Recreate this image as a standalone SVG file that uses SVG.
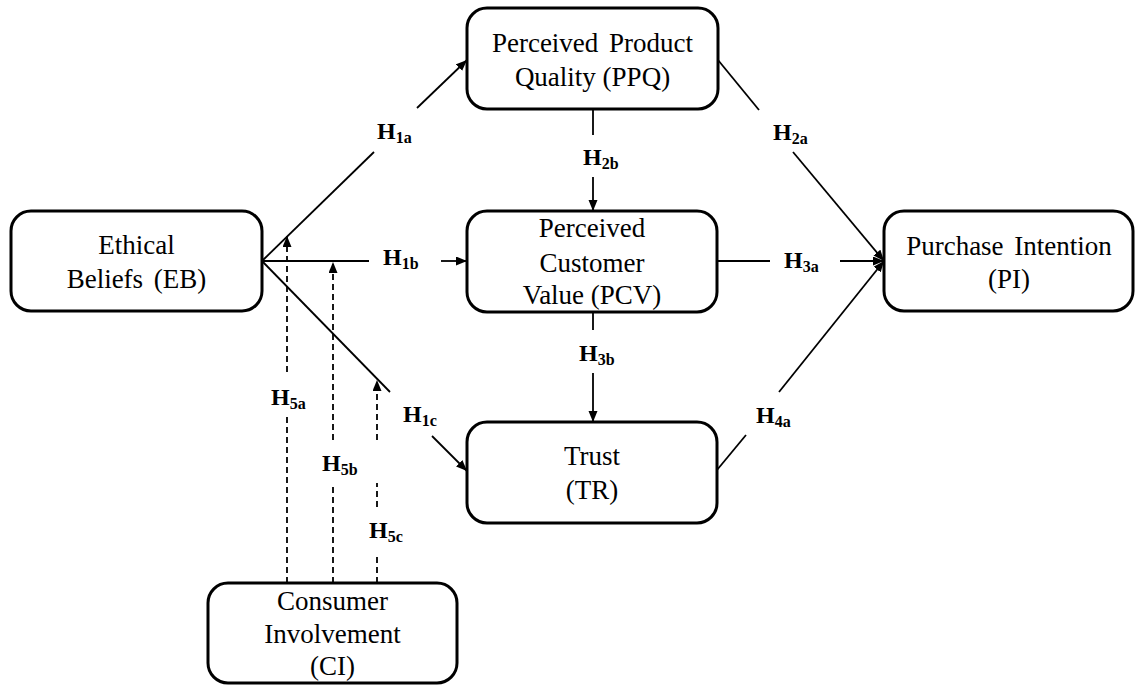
<svg xmlns="http://www.w3.org/2000/svg" width="1135" height="686" viewBox="0 0 1135 686">
<style>
.box{fill:#fff;stroke:#000;stroke-width:3}
.t{font-family:"Liberation Serif","Times New Roman",serif;font-size:27px;fill:#000;text-anchor:middle}
.lbl{font-family:"Liberation Serif","Times New Roman",serif;font-size:24px;font-weight:bold;fill:#000}
.sub{font-size:16px}
.ln{stroke:#000;stroke-width:1.8;fill:none}
.dl{stroke:#000;stroke-width:1.8;fill:none;stroke-dasharray:6,4}
</style>
<defs>
<marker id="ah" markerUnits="userSpaceOnUse" markerWidth="12" markerHeight="10" refX="11" refY="4.5" orient="auto">
<path d="M0,0 L11,4.5 L0,9 z" fill="#000"/>
</marker>
</defs>
<rect width="1135" height="686" fill="#fff"/>
<g id="connectors">
<line class="ln" x1="262" y1="261" x2="374" y2="152"/>
<line class="ln" x1="417" y1="108" x2="467" y2="60" marker-end="url(#ah)"/>
<line class="ln" x1="262" y1="261" x2="369" y2="261"/>
<line class="ln" x1="441" y1="261" x2="467" y2="261" marker-end="url(#ah)"/>
<line class="ln" x1="262" y1="261" x2="390" y2="392"/>
<line class="ln" x1="432" y1="436" x2="467" y2="471" marker-end="url(#ah)"/>
<line class="ln" x1="593" y1="109" x2="593" y2="135"/>
<line class="ln" x1="593" y1="177" x2="593" y2="211" marker-end="url(#ah)"/>
<line class="ln" x1="718" y1="60" x2="759" y2="110"/>
<line class="ln" x1="793" y1="152" x2="884" y2="261" marker-end="url(#ah)"/>
<line class="ln" x1="718" y1="261" x2="770" y2="261"/>
<line class="ln" x1="840" y1="261" x2="884" y2="261" marker-end="url(#ah)"/>
<line class="ln" x1="593" y1="312" x2="593" y2="330"/>
<line class="ln" x1="593" y1="373" x2="593" y2="422" marker-end="url(#ah)"/>
<line class="ln" x1="717" y1="470" x2="746" y2="435"/>
<line class="ln" x1="779" y1="392" x2="884" y2="261" marker-end="url(#ah)"/>
<line class="dl" x1="287" y1="583" x2="287" y2="417"/>
<line class="dl" x1="287" y1="372" x2="287" y2="236" marker-end="url(#ah)"/>
<line class="dl" x1="333" y1="583" x2="333" y2="484"/>
<line class="dl" x1="333" y1="440" x2="333" y2="262" marker-end="url(#ah)"/>
<line class="dl" x1="377" y1="583" x2="377" y2="553"/>
<line class="dl" x1="377" y1="507" x2="377" y2="483"/>
<line class="dl" x1="377" y1="440" x2="377" y2="380" marker-end="url(#ah)"/>
</g>
<g id="edge-labels">
<text class="lbl" x="377" y="139">H<tspan class="sub" dy="4">1a</tspan></text>
<text class="lbl" x="383" y="265">H<tspan class="sub" dy="4">1b</tspan></text>
<text class="lbl" x="403" y="422">H<tspan class="sub" dy="4">1c</tspan></text>
<text class="lbl" x="583" y="165">H<tspan class="sub" dy="4">2b</tspan></text>
<text class="lbl" x="773" y="140">H<tspan class="sub" dy="4">2a</tspan></text>
<text class="lbl" x="784" y="268">H<tspan class="sub" dy="4">3a</tspan></text>
<text class="lbl" x="579" y="361">H<tspan class="sub" dy="4">3b</tspan></text>
<text class="lbl" x="756" y="423">H<tspan class="sub" dy="4">4a</tspan></text>
<text class="lbl" x="271" y="405">H<tspan class="sub" dy="4">5a</tspan></text>
<text class="lbl" x="322" y="471">H<tspan class="sub" dy="4">5b</tspan></text>
<text class="lbl" x="369" y="538">H<tspan class="sub" dy="4">5c</tspan></text>
</g>
<g id="EB">
<rect class="box" x="11" y="211" width="251" height="100" rx="20"/>
<text class="t" x="136.5" y="254">Ethical</text>
<text class="t" x="136.5" y="288" word-spacing="4">Beliefs (EB)</text>
</g>
<g id="PPQ">
<rect class="box" x="467" y="8" width="251" height="101" rx="20"/>
<text class="t" x="592.5" y="52" word-spacing="4">Perceived Product</text>
<text class="t" x="592.5" y="86">Quality (PPQ)</text>
</g>
<g id="PCV">
<rect class="box" x="467" y="211" width="250" height="101" rx="20"/>
<text class="t" x="592" y="237">Perceived</text>
<text class="t" x="592" y="272">Customer</text>
<text class="t" x="592" y="304">Value (PCV)</text>
</g>
<g id="TR">
<rect class="box" x="467" y="422" width="250" height="101" rx="20"/>
<text class="t" x="592" y="465">Trust</text>
<text class="t" x="592" y="499">(TR)</text>
</g>
<g id="PI">
<rect class="box" x="884" y="211" width="249" height="100" rx="20"/>
<text class="t" x="1009" y="255" word-spacing="4">Purchase Intention</text>
<text class="t" x="1009" y="288">(PI)</text>
</g>
<g id="CI">
<rect class="box" x="208" y="583" width="249" height="100" rx="20"/>
<text class="t" x="332.5" y="610">Consumer</text>
<text class="t" x="332.5" y="643">Involvement</text>
<text class="t" x="332.5" y="675">(CI)</text>
</g>
</svg>
